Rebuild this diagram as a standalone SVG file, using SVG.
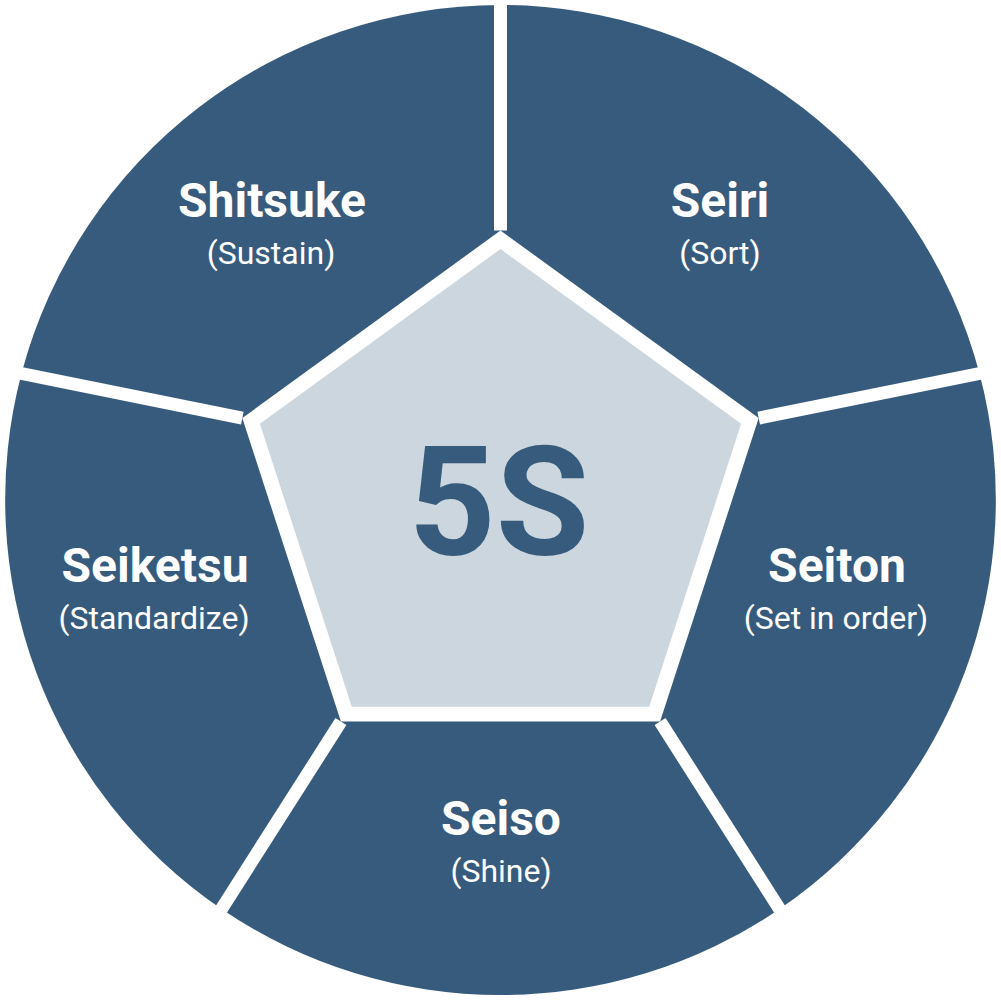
<svg xmlns="http://www.w3.org/2000/svg" width="1001" height="1001" viewBox="0 0 1001 1001">
  <style>
    .seg { fill: #365b7d; }
    .div { stroke: #ffffff; stroke-width: 13; stroke-linecap: butt; fill: none; }
    .title { font-family: Roboto, "Liberation Sans", sans-serif; font-weight: 700; font-size: 48px; fill: #ffffff; text-anchor: middle; }
    .sub { font-family: Roboto, "Liberation Sans", sans-serif; font-weight: 400; font-size: 32px; fill: #ffffff; text-anchor: middle; }
    .center { font-family: Roboto, "Liberation Sans", sans-serif; font-weight: 700; font-size: 152px; fill: #365b7d; text-anchor: middle; }
  </style>
  <rect width="1001" height="1001" fill="#ffffff"/>
  <g id="seiri">
    <path class="seg" d="M500.5,230.5 L500.5,5 A495.5,495.5 0 0 1 979.5,373.5 L758.7,418.1 Z"/>
    <text class="title" x="720" y="217">Seiri</text>
    <text class="sub" x="720" y="264">(Sort)</text>
  </g>
  <g id="seiton">
    <path class="seg" d="M758.7,418.1 L979.5,373.5 A495.5,495.5 0 0 1 779.5,909 L660.1,721.6 Z"/>
    <text class="title" x="837" y="582">Seiton</text>
    <text class="sub" x="836" y="629">(Set in order)</text>
  </g>
  <g id="seiso">
    <path class="seg" d="M660.1,721.6 L779.5,909 A495.5,495.5 0 0 1 221.5,909 L340.9,721.6 Z"/>
    <text class="title" x="501" y="835">Seiso</text>
    <text class="sub" x="501" y="882">(Shine)</text>
  </g>
  <g id="seiketsu">
    <path class="seg" d="M340.9,721.6 L221.5,909 A495.5,495.5 0 0 1 21.5,373.5 L242.3,418.1 Z"/>
    <text class="title" x="155" y="582">Seiketsu</text>
    <text class="sub" x="154" y="629">(Standardize)</text>
  </g>
  <g id="shitsuke">
    <path class="seg" d="M242.3,418.1 L21.5,373.5 A495.5,495.5 0 0 1 500.5,5 L500.5,230.5 Z"/>
    <text class="title" x="272" y="217">Shitsuke</text>
    <text class="sub" x="271" y="264">(Sustain)</text>
  </g>
  <g id="dividers">
    <line class="div" x1="500.5" y1="230.5" x2="500.5" y2="0"/>
    <line class="div" x1="758.7" y1="418.1" x2="984.5" y2="372.5"/>
    <line class="div" x1="660.1" y1="721.6" x2="782.2" y2="913.2"/>
    <line class="div" x1="340.9" y1="721.6" x2="218.8" y2="913.2"/>
    <line class="div" x1="242.3" y1="418.1" x2="16.5" y2="372.5"/>
  </g>
  <g id="core">
    <polygon points="500.5,249 741.1,423.8 649.2,706.7 351.8,706.7 259.9,423.8" fill="#cbd6df"/>
    <text class="center" x="499" y="555">5S</text>
  </g>
</svg>
